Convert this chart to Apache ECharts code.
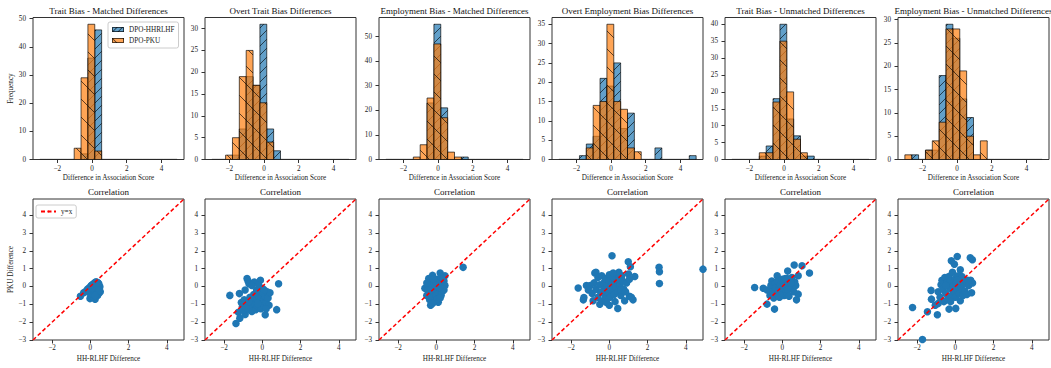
<!DOCTYPE html>
<html>
<head>
<meta charset="utf-8">
<script src="https://cdn.jsdelivr.net/npm/echarts@6/dist/echarts.min.js"></script>
<style>
  html, body { margin: 0; padding: 0; background: #fff; }
  #chart { width: 1051px; height: 368px; }
</style>
</head>
<body>
<div id="chart"></div>
<script>
// ---- data ----
const binEdges = [-3.0, -2.605, -2.21, -1.815, -1.42, -1.025, -0.63, -0.235, 0.16, 0.555, 0.95,
  1.345, 1.74, 2.135, 2.53, 2.925, 3.32, 3.715, 4.11, 4.505, 4.9];

const histTitles = [
  'Trait Bias - Matched Differences',
  'Overt Trait Bias Differences',
  'Employment Bias - Matched Differences',
  'Overt Employment Bias Differences',
  'Trait Bias - Unmatched Differences',
  'Employment Bias - Unmatched Differences',
];

// histogram counts per bin (DPO-HHRLHF / DPO-PKU)
const hhTraitMatched      = [0, 0, 0, 0, 0, 0, 2, 36, 46, 0, 0, 0, 0, 0, 0, 0, 0, 0, 0, 0];
const pkuTraitMatched     = [0, 0, 0, 0, 0, 4, 29, 48, 3, 0, 0, 0, 0, 0, 0, 0, 0, 0, 0, 0];
const hhOvertTrait        = [0, 0, 0, 1, 7, 19, 17, 31, 7, 2, 0, 0, 0, 0, 0, 0, 0, 0, 0, 0];
const pkuOvertTrait       = [0, 0, 1, 5, 19, 25, 17, 13, 4, 0, 0, 0, 0, 0, 0, 0, 0, 0, 0, 0];
const hhEmployMatched     = [0, 0, 0, 0, 0, 0, 23, 55, 21, 0, 0, 1, 0, 0, 0, 0, 0, 0, 0, 0];
const pkuEmployMatched    = [0, 0, 0, 0, 1, 6, 25, 47, 17, 3, 1, 0, 0, 0, 0, 0, 0, 0, 0, 0];
const hhOvertEmploy       = [0, 0, 0, 1, 4, 6, 21, 19, 25, 8, 12, 0, 0, 0, 3, 0, 0, 0, 0, 1];
const pkuOvertEmploy      = [0, 0, 0, 0, 3, 14, 15, 35, 15, 13, 3, 2, 0, 0, 0, 0, 0, 0, 0, 0];
const hhTraitUnmatched    = [0, 0, 0, 0, 1, 4, 18, 40, 12, 7, 1, 1, 0, 0, 0, 0, 0, 0, 0, 0];
const pkuTraitUnmatched   = [0, 0, 0, 0, 2, 2, 17, 35, 20, 6, 2, 0, 0, 0, 0, 0, 0, 0, 0, 0];
const hhEmployUnmatched   = [0, 1, 0, 2, 2, 18, 29, 26, 13, 9, 0, 0, 0, 0, 0, 0, 0, 0, 0, 0];
const pkuEmployUnmatched  = [1, 0, 0, 2, 4, 8, 28, 28, 19, 5, 1, 4, 0, 0, 0, 0, 0, 0, 0, 0];

const histYTicks = [
  [0, 10, 20, 30, 40, 50],
  [0, 5, 10, 15, 20, 25, 30],
  [0, 10, 20, 30, 40, 50],
  [0, 5, 10, 15, 20, 25, 30, 35],
  [0, 5, 10, 15, 20, 25, 30, 35, 40],
  [0, 5, 10, 15, 20, 25, 30],
];
const xTicks = [-2, 0, 2, 4];
const corrYTicks = [-3, -2, -1, 0, 1, 2, 3, 4];
const corrLimits = [-3.0, 4.9];

// correlation points: [HH-RLHF difference, PKU difference]
const corrTraitMatched = [[-0.52,-0.55],[-0.35,-0.35],[-0.25,-0.28],[-0.15,-0.15],[-0.08,-0.1],[0,-0.02],[0.05,0.05],
  [0.1,0.1],[0.15,0.12],[0.2,0.18],[0.25,0.22],[0.3,0.26],[0.38,0.22],[0.45,0.12],[0.5,-0.02],[0.52,-0.3],[0.45,-0.38],
  [0.38,-0.5],[0.25,-0.72],[-0.02,-0.68],[0.1,-0.55],[0.2,-0.6],[0.3,-0.42],[0.22,-0.38],[0.12,-0.32],[0.02,-0.25],
  [0.08,-0.15],[0.18,-0.22],[0.28,-0.25],[0.35,-0.15],[0.42,-0.05],[0.3,-0.05],[0.2,-0.05],[0.12,0],[0.25,0.05],
  [0.35,0.08],[0.42,0.18],[0.05,-0.4],[-0.05,-0.35],[0.15,-0.45],[0.32,-0.32],[0.4,-0.25],[-0.1,-0.2],[0.1,-0.1],
  [0.2,0.02],[0.3,0.12],[0.45,-0.22],[0.25,-0.5]];
const corrOvertTrait = [[-1.7,-0.5],[-1.38,-2.08],[-1.25,-1.45],[-1.18,-1.78],[-0.9,-1.57],[-1.2,-0.4],[-1.1,-0.9],
  [-1.05,-1.15],[-0.95,-0.75],[-0.9,-0.2],[-0.8,0.45],[-0.75,0.3],[-0.7,0.15],[-0.8,-1.05],[-0.75,-1.3],[-0.65,-0.6],
  [-0.6,-0.95],[-0.6,-1.2],[-0.55,-1.4],[-0.5,-0.8],[-0.45,-0.45],[-0.42,0.25],[-0.4,-1.0],[-0.35,-1.3],[-0.3,-0.7],
  [-0.3,-0.2],[-0.25,-1.1],[-0.2,-0.55],[-0.15,-0.85],[-0.12,-0.3],[-0.1,0.35],[-0.08,-1.25],[-0.05,-0.6],[0,-0.95],
  [0,-0.1],[0.05,-0.4],[0.08,-0.75],[0.1,-1.1],[0.15,-1.58],[0.15,-0.55],[0.2,-0.9],[0.25,-0.3],[0.3,-0.65],
  [0.35,-1.05],[0.4,-0.35],[0.75,-1.3],[0.85,0.15],[-0.55,0.05],[-0.2,0.1],[0.1,-0.2],[-1.0,-1.3],[-0.85,-1.2],
  [-0.7,-0.85],[-0.25,-0.95],[0.2,-1.25]];
const corrEmployMatched = [[1.4,1.07],[-0.3,-1.05],[0.2,0.75],[-0.2,0.62],[-0.4,0.45],[0.45,0.6],[-0.6,-0.1],[0.1,-0.88],
  [-0.5,-0.5],[-0.45,-0.2],[-0.4,0.1],[-0.35,-0.75],[-0.3,0.3],[-0.25,-0.4],[-0.2,-0.05],[-0.15,-0.6],[-0.1,0.2],
  [-0.05,-0.25],[0,0],[0,-0.5],[0.05,0.4],[0.08,-0.15],[0.1,0.1],[0.12,-0.35],[0.15,0.3],[0.2,-0.1],[0.25,0.5],
  [0.25,-0.5],[0.3,0.15],[0.3,-0.3],[0.35,-0.05],[0.4,0.3],[0.4,-0.2],[-0.1,-0.8],[-0.25,0.05],[-0.15,0.4],[0.05,-0.7],
  [0.2,-0.65],[-0.3,-0.2],[-0.05,0.05],[0.15,-0.05],[-0.5,0.2],[0.45,0.05],[-0.2,-0.95],[0.35,0.45]];
const corrOvertEmploy = [[-1.63,-0.09],[-1.33,-0.62],[-1.36,-0.75],[-1.2,0.05],[-1.0,0.05],[-1.1,-0.2],[-0.76,0.75],
  [-0.7,0.8],[0.14,1.72],[0.99,1.38],[1.1,1.1],[2.6,1.07],[2.62,0.82],[2.62,0.17],[4.9,0.97],[1.33,0.56],[1.24,-0.75],
  [1.05,-0.55],[0.44,-1.23],[0,-1.05],[-0.5,-1.0],[-0.85,-0.8],[-0.9,-0.4],[-0.8,0.2],[-0.7,-0.15],[-0.6,0.5],
  [-0.6,-0.6],[-0.5,0.1],[-0.45,-0.35],[-0.4,0.6],[-0.35,-0.8],[-0.3,0.2],[-0.25,-0.15],[-0.2,0.45],[-0.2,-0.55],
  [-0.1,0.05],[-0.05,-0.35],[0,0.65],[0,0.3],[0.05,-0.6],[0.1,0.05],[0.15,-0.2],[0.2,0.5],[0.25,-0.45],[0.3,0.2],
  [0.35,-0.05],[0.4,0.65],[0.45,-0.3],[0.5,0.35],[0.55,0.05],[0.6,-0.5],[0.65,0.6],[0.7,0.3],[0.75,-0.15],[0.8,-0.8],
  [0.9,0.2],[1.0,0.7],[1.05,0.4],[1.15,-0.6],[0.3,-0.85],[-0.15,-0.9],[0.5,0.8],[0.2,0.75],[-0.4,-0.3],[0.6,-0.2],
  [0.85,-0.3]];
const corrTraitUnmatched = [[-1.45,-0.06],[-0.8,-0.99],[-0.41,-1.27],[0.62,1.2],[1.03,1.16],[1.42,0.75],[0.83,0.6],
  [0.28,0.86],[0.74,-0.75],[0.83,-0.43],[-0.27,0.6],[-0.55,0.3],[-1.0,-0.1],[-0.8,-0.2],[-0.65,-0.5],[-0.6,0.05],
  [-0.5,-0.3],[-0.45,-0.65],[-0.4,0.15],[-0.35,-0.1],[-0.3,-0.45],[-0.25,0.3],[-0.2,-0.2],[-0.15,-0.6],[-0.1,0.1],
  [-0.05,-0.35],[0,0],[0,0.4],[0.05,-0.15],[0.1,0.25],[0.1,-0.5],[0.15,0.05],[0.2,-0.3],[0.25,0.45],[0.3,0.1],
  [0.3,-0.2],[0.35,-0.55],[0.4,0.3],[0.45,-0.1],[0.5,0.5],[0.55,0.15],[0.6,-0.3],[0.65,0.25],[0.7,0.05],[-0.2,-0.55],
  [0.15,0.45],[-0.1,-0.5],[0.45,0.2]];
const corrEmployUnmatched = [[-2.24,-1.18],[-1.72,-2.97],[-1.46,-1.42],[-1.25,-0.71],[-1.27,-0.22],[-0.94,-1.59],
  [-1.05,-1.05],[-0.9,-0.95],[-0.21,1.44],[0.1,1.68],[0.78,1.61],[0.89,1.5],[-0.05,1.25],[0.26,0.93],[-0.33,-1.27],
  [0.02,-1.23],[0.26,-0.8],[-0.9,-0.3],[-0.8,-0.6],[-0.75,0.1],[-0.7,0.35],[-0.65,-0.15],[-0.6,-0.85],[-0.55,0.5],
  [-0.5,-0.4],[-0.45,0.2],[-0.4,-0.7],[-0.35,0.55],[-0.3,-0.1],[-0.25,0.3],[-0.2,-0.5],[-0.15,0.8],[-0.1,0.05],
  [-0.05,-0.3],[0,0.45],[0,-0.6],[0.05,0.2],[0.1,-0.15],[0.15,0.6],[0.2,-0.4],[0.25,0.3],[0.3,-0.05],[0.35,0.55],
  [0.4,-0.5],[0.45,0.15],[0.5,-0.25],[0.55,0.3],[0.6,-0.45],[0.7,0.05],[0.8,0.35],[0.85,-0.35],[0.9,0.2],[-0.5,0.05],
  [0.1,0.35],[-0.25,-0.85],[0.65,0.35]];

const hhCounts = [hhTraitMatched, hhOvertTrait, hhEmployMatched, hhOvertEmploy, hhTraitUnmatched, hhEmployUnmatched];
const pkuCounts = [pkuTraitMatched, pkuOvertTrait, pkuEmployMatched, pkuOvertEmploy, pkuTraitUnmatched, pkuEmployUnmatched];
const corrPoints = [corrTraitMatched, corrOvertTrait, corrEmployMatched, corrOvertEmploy, corrTraitUnmatched, corrEmployUnmatched];

// ---- style ----
const FONT = 'Liberation Serif, serif';
const INK = '#222';
const SPINE = '#333';
const HH_FILL = 'rgba(31, 119, 180, 0.7)';
const PKU_FILL = 'rgba(255, 127, 14, 0.7)';
const EDGE = 'rgba(0, 0, 0, 0.65)';
const HATCH = 'rgba(0, 0, 0, 0.7)';
const HH_SPACING = 9;
const PKU_SPACING = 18;

const panelLefts = [33, 205, 379, 552, 725, 898];
const panelWidth = 151;
const histTop = 17.5, histHeight = 142;
const corrTop = 199, corrHeight = 141;

const minus = (v) => (v < 0 ? '\u2212' + Math.abs(v) : String(v));

function hatchLines(x0, x1, yT, yB, dir, s) {
  const out = [];
  if (dir > 0) { // '/'  x + y = c
    for (let c = Math.ceil((x0 + yT) / s) * s; c <= x1 + yB; c += s) {
      const xa = Math.max(x0, c - yB), xb = Math.min(x1, c - yT);
      if (xb > xa) out.push([xa, c - xa, xb, c - xb]);
    }
  } else { // '\'  x - y = c
    for (let c = Math.ceil((x0 - yB) / s) * s; c <= x1 - yT; c += s) {
      const xa = Math.max(x0, c + yT), xb = Math.min(x1, c + yB);
      if (xb > xa) out.push([xa, xa - c, xb, xb - c]);
    }
  }
  return out;
}

function histSeries(name, counts, idx, fill, dir, spacing, z) {
  return {
    type: 'custom',
    name,
    xAxisIndex: idx,
    yAxisIndex: idx,
    z,
    silent: true,
    clip: true,
    itemStyle: { color: fill },
    encode: { x: [0, 1], y: 2 },
    data: counts.map((c, i) => [binEdges[i], binEdges[i + 1], c]),
    renderItem: (params, api) => {
      const h = api.value(2);
      const p0 = api.coord([api.value(0), h]);
      const p1 = api.coord([api.value(1), 0]);
      const x0 = p0[0], x1 = p1[0], yT = p0[1], yB = p1[1];
      if (h === 0) {
        return {
          type: 'line',
          shape: { x1: x0, y1: yB, x2: x1, y2: yB },
          style: { stroke: 'rgba(0,0,0,0.22)', lineWidth: 1.6 },
        };
      }
      const children = [
        { type: 'rect', shape: { x: x0, y: yT, width: x1 - x0, height: yB - yT }, style: { fill } },
      ];
      hatchLines(x0, x1, yT, yB, dir, spacing).forEach(([a, b, c, d]) => {
        children.push({ type: 'line', shape: { x1: a, y1: b, x2: c, y2: d }, style: { stroke: HATCH, lineWidth: 0.9 } });
      });
      children.push({
        type: 'rect',
        shape: { x: x0, y: yT, width: x1 - x0, height: yB - yT },
        style: { fill: 'none', stroke: EDGE, lineWidth: 1 },
      });
      return { type: 'group', children };
    },
  };
}

function hatchIcon(fill, dir, spacing) {
  const w = 24, h = 10;
  const cv = document.createElement('canvas');
  cv.width = w; cv.height = h;
  const ctx = cv.getContext('2d');
  ctx.fillStyle = fill;
  ctx.fillRect(0, 0, w, h);
  ctx.strokeStyle = HATCH;
  ctx.lineWidth = 1.6;
  hatchLines(0, w, 0, h, dir, spacing * 1.2).forEach(([a, b, c, d]) => {
    ctx.beginPath(); ctx.moveTo(a, b); ctx.lineTo(c, d); ctx.stroke();
  });
  ctx.strokeStyle = EDGE;
  ctx.lineWidth = 2;
  ctx.strokeRect(1, 1, w - 2, h - 2);
  return 'image://' + cv.toDataURL();
}

const tickLabel = { fontFamily: FONT, fontSize: 7.2, color: INK };
const axisNameStyle = { fontFamily: FONT, fontSize: 7.2, color: INK };
const titleStyle = { fontFamily: FONT, fontSize: 9, fontWeight: 'normal', color: '#111' };

const grids = [], xAxes = [], yAxes = [], titles = [], series = [];

for (let i = 0; i < 6; i++) {
  const cx = panelLefts[i] + panelWidth / 2;
  grids.push({ left: panelLefts[i], top: histTop, width: panelWidth, height: histHeight,
    show: true, borderColor: SPINE, borderWidth: 1, backgroundColor: 'transparent' });
  titles.push({ text: histTitles[i], left: cx, top: 6, textAlign: 'center', padding: 0, textStyle: titleStyle });
  const binW = binEdges[1] - binEdges[0];
  xAxes.push({
    gridIndex: i, type: 'value', min: binEdges[0] - binW, max: binEdges[20] + binW,
    axisLine: { show: false, onZero: false },
    axisTick: { show: true, customValues: xTicks, length: 3.5, lineStyle: { color: SPINE } },
    axisLabel: { customValues: xTicks, margin: 5.5, formatter: minus, ...tickLabel },
    splitLine: { show: false },
    name: 'Difference in Association Score', nameLocation: 'middle', nameGap: 15, nameTextStyle: axisNameStyle,
  });
  const maxCount = Math.max(...hhCounts[i], ...pkuCounts[i]);
  yAxes.push({
    gridIndex: i, type: 'value', min: 0, max: maxCount * 1.05,
    axisLine: { show: false, onZero: false },
    axisTick: { show: true, customValues: histYTicks[i], length: 3.5, lineStyle: { color: SPINE } },
    axisLabel: { customValues: histYTicks[i], margin: 7, ...tickLabel },
    splitLine: { show: false },
    name: i === 0 ? 'Frequency' : '', nameLocation: 'middle', nameGap: 16.5, nameTextStyle: axisNameStyle,
  });
  series.push(histSeries('DPO-HHRLHF', hhCounts[i], i, HH_FILL, 1, HH_SPACING, 2));
  series.push(histSeries('DPO-PKU', pkuCounts[i], i, PKU_FILL, -1, PKU_SPACING, 3));
}

for (let i = 0; i < 6; i++) {
  const g = 6 + i;
  const cx = panelLefts[i] + panelWidth / 2;
  grids.push({ left: panelLefts[i], top: corrTop, width: panelWidth, height: corrHeight,
    show: true, borderColor: SPINE, borderWidth: 1, backgroundColor: 'transparent' });
  titles.push({ text: 'Correlation', left: cx, top: 187.5, textAlign: 'center', padding: 0, textStyle: titleStyle });
  xAxes.push({
    gridIndex: g, type: 'value', min: corrLimits[0], max: corrLimits[1],
    axisLine: { show: false, onZero: false },
    axisTick: { show: true, customValues: xTicks, length: 3.5, lineStyle: { color: SPINE } },
    axisLabel: { customValues: xTicks, margin: 4.5, formatter: minus, ...tickLabel },
    splitLine: { show: false },
    name: 'HH-RLHF Difference', nameLocation: 'middle', nameGap: 15, nameTextStyle: axisNameStyle,
  });
  yAxes.push({
    gridIndex: g, type: 'value', min: corrLimits[0], max: corrLimits[1],
    axisLine: { show: false, onZero: false },
    axisTick: { show: true, customValues: corrYTicks, length: 3.5, lineStyle: { color: SPINE } },
    axisLabel: { customValues: corrYTicks, margin: 7, formatter: minus, ...tickLabel },
    splitLine: { show: false },
    name: i === 0 ? 'PKU Difference' : '', nameLocation: 'middle', nameGap: 17, nameTextStyle: axisNameStyle,
  });
  series.push({
    type: 'scatter', xAxisIndex: g, yAxisIndex: g, z: 2, silent: true, clip: true,
    symbolSize: 7.5, itemStyle: { color: '#1f77b4', opacity: 1 },
    data: corrPoints[i],
  });
  series.push({
    type: 'line', name: 'y=x', xAxisIndex: g, yAxisIndex: g, z: 3, silent: true, clip: true,
    symbol: 'none',
    lineStyle: { color: '#ff0000', width: 1.5, type: [4, 2.5] },
    itemStyle: { color: '#ff0000' },
    data: [[corrLimits[0], corrLimits[0]], [corrLimits[1], corrLimits[1]]],
  });
}

const chart = echarts.init(document.getElementById('chart'), null, { renderer: 'svg' });
chart.setOption({
  animation: false,
  backgroundColor: '#fff',
  title: titles,
  grid: grids,
  xAxis: xAxes,
  yAxis: yAxes,
  legend: [
    {
      left: 108, top: 22, orient: 'vertical', padding: [4, 4], itemGap: 4,
      itemWidth: 12, itemHeight: 5, selectedMode: false,
      borderColor: '#ccc', borderWidth: 1, borderRadius: 2, backgroundColor: 'rgba(255,255,255,0.8)',
      textStyle: { fontFamily: FONT, fontSize: 7.2, color: INK },
      data: [
        { name: 'DPO-HHRLHF', icon: hatchIcon(HH_FILL, 1, HH_SPACING) },
        { name: 'DPO-PKU', icon: hatchIcon(PKU_FILL, -1, PKU_SPACING) },
      ],
    },
    {
      left: 36, top: 205, padding: [3, 4], itemWidth: 15, itemHeight: 2, selectedMode: false,
      borderColor: '#ccc', borderWidth: 1, borderRadius: 2, backgroundColor: 'rgba(255,255,255,0.8)',
      textStyle: { fontFamily: FONT, fontSize: 7.2, color: INK },
      data: [{ name: 'y=x' }],
    },
  ],
  series,
});
</script>
</body>
</html>
